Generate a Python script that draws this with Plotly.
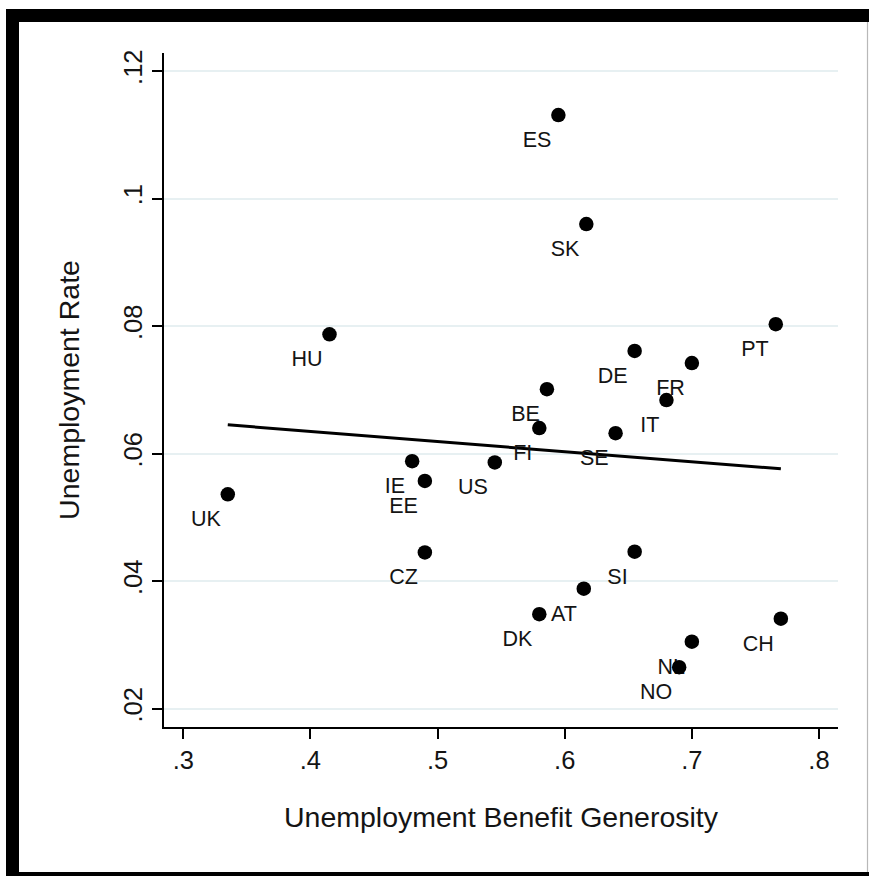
import plotly.graph_objects as go

# ---------------- data ----------------
countries = ["ES", "SK", "HU", "PT", "DE", "FR", "IT", "BE", "FI", "SE", "US",
             "IE", "EE", "UK", "CZ", "SI", "AT", "DK", "NL", "NO", "CH"]
benefit_generosity = [0.595, 0.617, 0.415, 0.766, 0.655, 0.700, 0.680, 0.586, 0.580, 0.640, 0.545,
                      0.480, 0.490, 0.335, 0.490, 0.655, 0.615, 0.580, 0.700, 0.690, 0.770]
unemployment_rate = [0.1131, 0.0960, 0.0787, 0.0803, 0.0761, 0.0742, 0.0684, 0.0701, 0.0640, 0.0632, 0.0586,
                     0.0588, 0.0557, 0.0536, 0.0445, 0.0446, 0.0388, 0.0348, 0.0305, 0.0265, 0.0341]
fit_x = [0.335, 0.770]
fit_y = [0.0645, 0.0576]

x_tick_values = [0.3, 0.4, 0.5, 0.6, 0.7, 0.8]
x_tick_labels = [".3", ".4", ".5", ".6", ".7", ".8"]
y_tick_values = [0.02, 0.04, 0.06, 0.08, 0.10, 0.12]
y_tick_labels = [".02", ".04", ".06", ".08", ".1", ".12"]

x_title = "Unemployment Benefit Generosity"
y_title = "Unemployment Rate"

# ---------------- layout constants ----------------
W, H = 869, 876
ML, MR, MT, MB = 164, 31, 53, 149
PW, PH = W - ML - MR, H - MT - MB
X_RANGE = [0.28483, 0.81494]
Y_RANGE = [0.01711, 0.12283]
FONT = "Liberation Sans, Arial, Helvetica, sans-serif"
TXT = "#141414"

LABEL_FS = 21.5
LABEL_DX_PX = -7.0     # right edge of label relative to marker centre
LABEL_DY_PX = 26.5     # downward shift of label (middle-left anchor)

px_per_x = PW / (X_RANGE[1] - X_RANGE[0])
px_per_y = PH / (Y_RANGE[1] - Y_RANGE[0])
X2_RANGE = [X_RANGE[0] - LABEL_DX_PX / px_per_x, X_RANGE[1] - LABEL_DX_PX / px_per_x]
Y2_RANGE = [Y_RANGE[0] + LABEL_DY_PX / px_per_y, Y_RANGE[1] + LABEL_DY_PX / px_per_y]


def px_to_paper_x(px):
    return (px - ML) / PW


def px_to_paper_y(py):
    return (H - MB - py) / PH


fig = go.Figure()

# fitted line (main axes)
fig.add_trace(go.Scatter(x=fit_x, y=fit_y, mode="lines",
                         line=dict(color="#000000", width=3),
                         hoverinfo="skip", showlegend=False))

# labels (overlay axes shifted by a few pixels -> Stata 7 o'clock position)
fig.add_trace(go.Scatter(x=benefit_generosity, y=unemployment_rate, text=countries,
                         mode="text", textposition="middle left",
                         textfont=dict(family=FONT, size=LABEL_FS, color=TXT),
                         xaxis="x2", yaxis="y2", hoverinfo="skip", showlegend=False))

# markers (drawn on top of labels)
fig.add_trace(go.Scatter(x=benefit_generosity, y=unemployment_rate, mode="markers",
                         marker=dict(color="#000000", size=14.5, line=dict(width=0)),
                         xaxis="x3", yaxis="y3", text=countries, showlegend=False))

# frame around the graph
shapes = [
    dict(type="rect", xref="paper", yref="paper", layer="below",
         x0=px_to_paper_x(6), x1=px_to_paper_x(870), y0=px_to_paper_y(877), y1=px_to_paper_y(9),
         fillcolor="#000000", line=dict(width=0)),
    dict(type="rect", xref="paper", yref="paper", layer="below",
         x0=px_to_paper_x(19), x1=px_to_paper_x(870), y0=px_to_paper_y(872), y1=px_to_paper_y(22),
         fillcolor="#ffffff", line=dict(width=0)),
    dict(type="line", xref="paper", yref="paper", layer="below",
         x0=px_to_paper_x(867.5), x1=px_to_paper_x(867.5), y0=px_to_paper_y(872), y1=px_to_paper_y(22),
         line=dict(color="#b8b8b8", width=1.2)),
]

axis_common = dict(ticks="outside", ticklen=10, tickwidth=1.5, tickcolor="#000000",
                   showline=True, linecolor="#000000", linewidth=1.5, zeroline=False,
                   tickfont=dict(family=FONT, size=25.5, color=TXT))

fig.update_layout(
    width=W, height=H,
    margin=dict(l=ML, r=MR, t=MT, b=MB, pad=0),
    paper_bgcolor="#ffffff", plot_bgcolor="rgba(0,0,0,0)",
    showlegend=False,
    shapes=shapes,
    xaxis=dict(range=X_RANGE, tickmode="array", tickvals=x_tick_values, ticktext=x_tick_labels,
               showgrid=False, automargin=False,
               title=dict(text=x_title, font=dict(family=FONT, size=28.5, color=TXT), standoff=34),
               **axis_common),
    yaxis=dict(range=Y_RANGE, tickmode="array", tickvals=y_tick_values, ticktext=y_tick_labels,
               showgrid=True, gridcolor="#e7f0f2", gridwidth=2, tickangle=-90, automargin=False,
               title=dict(text=y_title, font=dict(family=FONT, size=28.5, color=TXT), standoff=31),
               **axis_common),
    xaxis2=dict(range=X2_RANGE, overlaying="x", anchor="y2", visible=False),
    yaxis2=dict(range=Y2_RANGE, overlaying="y", anchor="x2", visible=False),
    xaxis3=dict(range=X_RANGE, overlaying="x", anchor="y3", visible=False),
    yaxis3=dict(range=Y_RANGE, overlaying="y", anchor="x3", visible=False),
)

fig.write_html("out.html", config={"displayModeBar": False},
               post_script="document.body.style.margin='0px';document.body.style.overflow='hidden';")
